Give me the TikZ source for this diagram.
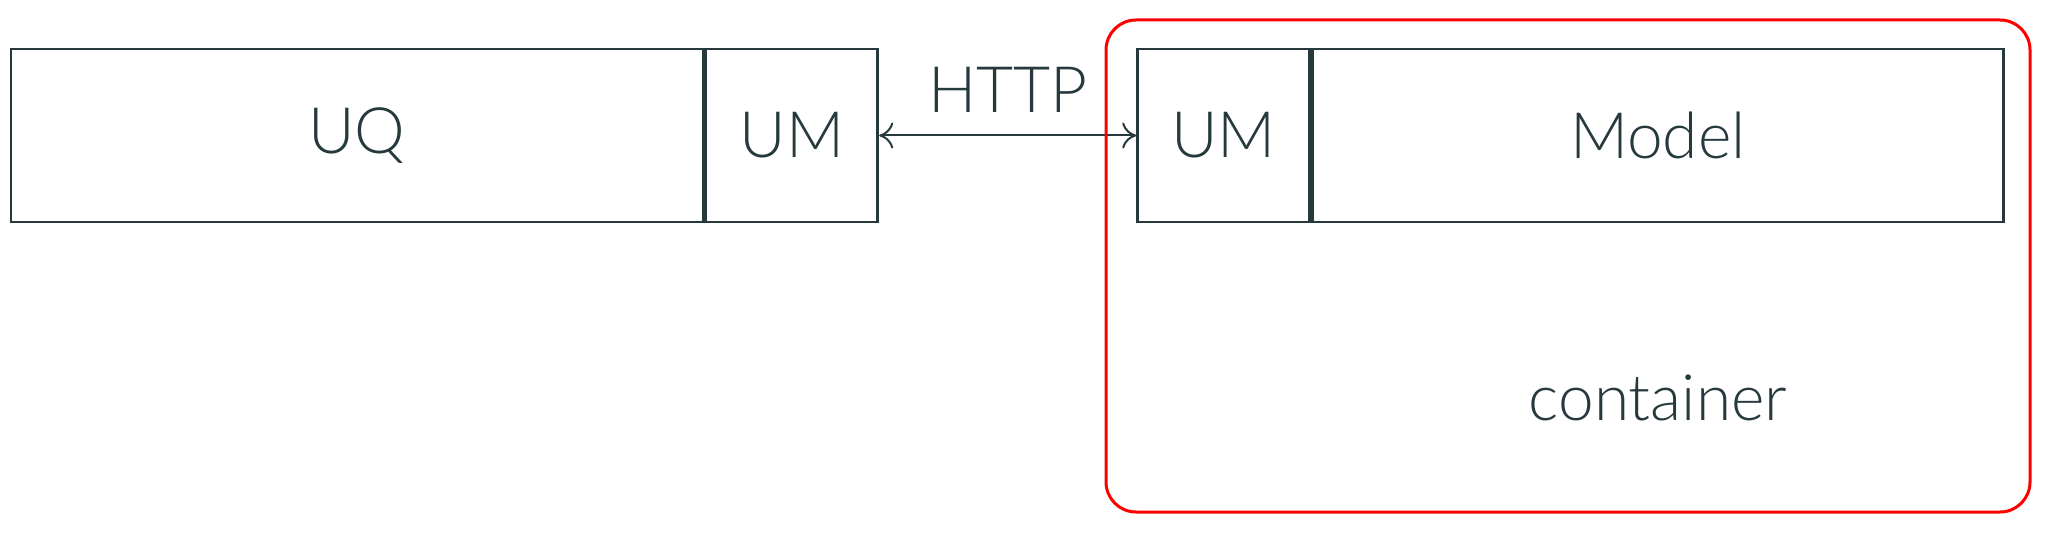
\documentclass[tikz,border=0pt]{standalone}
\usepackage{fontspec}
\setmainfont{Lato}[UprightFont=* Light]
\usetikzlibrary{arrows.meta,positioning}

\definecolor{ink}{RGB}{38,58,62}
\definecolor{frame}{RGB}{255,0,0}

\begin{document}
\begin{tikzpicture}[
  x=0.5pt, y=-0.5pt,
  font=\fontsize{32}{40}\selectfont, text=ink,
  part/.style={draw=ink, line width=1.4pt, minimum height=86.5pt, inner sep=0pt},
  holder/.style={draw=frame, line width=1.5pt, rounded corners=15pt, minimum width=462pt, minimum height=246pt, inner sep=0pt},
  link/.style={{Computer Modern Rightarrow[length=7pt,width=13pt]}-{Computer Modern Rightarrow[length=7pt,width=13pt]}, draw=ink, line width=1pt}]
  \useasboundingbox (0,0) rectangle (2048,539);
  % client side
  \node[part, minimum width=346pt] (uq) at (357,135.5) {UQ};
  \node[part, minimum width=86pt, right=0pt of uq] (umL) {UM};
  % server side
  \node[part, minimum width=86pt, right=128.5pt of umL] (umR) {UM};
  \node[part, minimum width=345.5pt, right=0pt of umR] (model) {Model};
  \node[anchor=base] (boxname) at (model.center |- 0,420) {container};
  \draw[link] (umL) -- (umR) node[midway, anchor=base, yshift=11.5pt] (proto) {HTTP};
  % container around the model service
  \node[holder] (box) at (1568,266) {};
\end{tikzpicture}
\end{document}
